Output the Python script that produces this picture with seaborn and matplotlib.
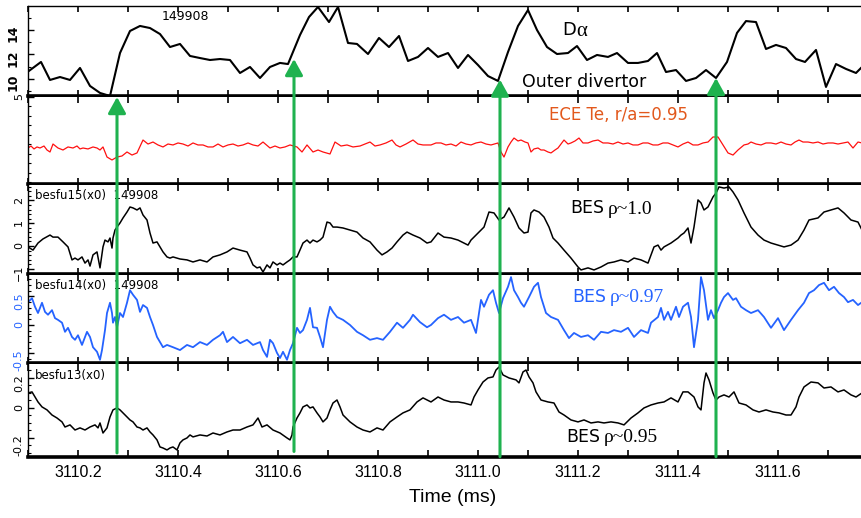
import matplotlib
matplotlib.use("Agg")
import matplotlib.pyplot as plt
import seaborn as sns
from matplotlib.patches import ConnectionPatch
from matplotlib.ticker import MultipleLocator, FormatStrFormatter

# ---------------- data ----------------
da_time = [3110.100, 3110.126, 3110.144, 3110.164, 3110.184, 3110.204, 3110.224, 3110.244, 3110.264,
           3110.284, 3110.304, 3110.324, 3110.344, 3110.364, 3110.384, 3110.404, 3110.424, 3110.444,
           3110.464, 3110.484, 3110.504, 3110.524, 3110.544, 3110.564, 3110.584, 3110.604, 3110.620,
           3110.644, 3110.662, 3110.680, 3110.702, 3110.720, 3110.740, 3110.758, 3110.780, 3110.802,
           3110.822, 3110.842, 3110.860, 3110.880, 3110.900, 3110.920, 3110.940, 3110.960, 3110.980,
           3111.000, 3111.020, 3111.040, 3111.060, 3111.080, 3111.100, 3111.118, 3111.138, 3111.158,
           3111.180, 3111.198, 3111.218, 3111.238, 3111.260, 3111.278, 3111.300, 3111.320, 3111.340,
           3111.358, 3111.376, 3111.396, 3111.416, 3111.436, 3111.456, 3111.476, 3111.498, 3111.518,
           3111.536, 3111.556, 3111.576, 3111.596, 3111.616, 3111.636, 3111.654, 3111.676, 3111.696,
           3111.716, 3111.736, 3111.756, 3111.768]
da_value = [10.6, 11.39, 9.92, 10.16, 9.92, 10.90, 9.43, 8.86, 8.61,
            12.12, 13.92, 14.33, 14.16, 13.67, 12.61, 12.86, 11.88, 11.71,
            11.55, 11.63, 11.55, 10.49, 10.98, 10.08, 10.98, 11.31, 11.22,
            13.59, 15.06, 15.88, 14.65, 15.88, 12.94, 12.86, 12.04, 13.35,
            12.61, 13.51, 11.47, 11.80, 12.53, 11.80, 12.12, 10.90, 11.96,
            11.14, 10.24, 9.84, 12.20, 14.33, 15.63, 14.00, 12.61, 12.04,
            12.12, 12.69, 11.55, 11.96, 11.80, 12.12, 11.31, 11.31, 11.47,
            12.12, 10.57, 10.73, 9.84, 10.08, 10.73, 10.08, 11.39, 13.76,
            14.73, 14.65, 12.45, 12.78, 12.53, 11.63, 11.39, 12.37, 9.35,
            11.22, 10.82, 10.49, 10.98]

ece_time = [3110.100, 3110.106, 3110.112, 3110.118, 3110.124, 3110.132, 3110.138, 3110.144, 3110.150,
            3110.160, 3110.170, 3110.180, 3110.190, 3110.198, 3110.204, 3110.210, 3110.220, 3110.230,
            3110.238, 3110.244, 3110.250, 3110.258, 3110.268, 3110.278, 3110.288, 3110.298, 3110.308,
            3110.318, 3110.330, 3110.340, 3110.350, 3110.360, 3110.370, 3110.380, 3110.390, 3110.400,
            3110.410, 3110.420, 3110.430, 3110.440, 3110.450, 3110.460, 3110.470, 3110.480, 3110.490,
            3110.500, 3110.510, 3110.520, 3110.530, 3110.540, 3110.550, 3110.560, 3110.570, 3110.584,
            3110.594, 3110.604, 3110.614, 3110.624, 3110.638, 3110.648, 3110.658, 3110.670, 3110.680,
            3110.690, 3110.704, 3110.714, 3110.726, 3110.738, 3110.750, 3110.764, 3110.774, 3110.784,
            3110.794, 3110.804, 3110.816, 3110.828, 3110.836, 3110.844, 3110.856, 3110.870, 3110.880,
            3110.890, 3110.906, 3110.916, 3110.926, 3110.936, 3110.946, 3110.956, 3110.966, 3110.976,
            3110.986, 3110.996, 3111.006, 3111.016, 3111.026, 3111.040, 3111.046, 3111.052, 3111.060,
            3111.066, 3111.072, 3111.080, 3111.086, 3111.094, 3111.100, 3111.106, 3111.112, 3111.120,
            3111.126, 3111.132, 3111.140, 3111.146, 3111.154, 3111.160, 3111.166, 3111.172, 3111.180,
            3111.186, 3111.194, 3111.202, 3111.210, 3111.220, 3111.230, 3111.240, 3111.250, 3111.260,
            3111.270, 3111.280, 3111.290, 3111.300, 3111.310, 3111.320, 3111.330, 3111.340, 3111.350,
            3111.360, 3111.370, 3111.380, 3111.390, 3111.400, 3111.410, 3111.420, 3111.430, 3111.440,
            3111.450, 3111.460, 3111.470, 3111.480, 3111.490, 3111.500, 3111.510, 3111.520, 3111.532,
            3111.540, 3111.546, 3111.556, 3111.566, 3111.576, 3111.586, 3111.596, 3111.606, 3111.616,
            3111.626, 3111.634, 3111.642, 3111.650, 3111.660, 3111.670, 3111.680, 3111.690, 3111.700,
            3111.710, 3111.720, 3111.730, 3111.740, 3111.750, 3111.760, 3111.768]
ece_value = [4.463, 4.484, 4.453, 4.474, 4.463, 4.484, 4.442, 4.421, 4.505,
             4.463, 4.442, 4.474, 4.463, 4.484, 4.453, 4.463, 4.453, 4.474,
             4.463, 4.442, 4.474, 4.368, 4.337, 4.368, 4.379, 4.421, 4.389,
             4.411, 4.547, 4.505, 4.526, 4.495, 4.474, 4.505, 4.495, 4.516,
             4.505, 4.484, 4.516, 4.495, 4.495, 4.474, 4.474, 4.505, 4.474,
             4.495, 4.505, 4.484, 4.495, 4.516, 4.495, 4.484, 4.526, 4.463,
             4.484, 4.463, 4.474, 4.495, 4.474, 4.421, 4.495, 4.421, 4.442,
             4.421, 4.400, 4.526, 4.484, 4.495, 4.474, 4.484, 4.505, 4.526,
             4.484, 4.495, 4.516, 4.547, 4.495, 4.474, 4.505, 4.547, 4.505,
             4.495, 4.495, 4.516, 4.516, 4.495, 4.505, 4.484, 4.526, 4.505,
             4.495, 4.516, 4.526, 4.505, 4.495, 4.516, 4.421, 4.368, 4.474,
             4.526, 4.568, 4.537, 4.547, 4.526, 4.516, 4.421, 4.453, 4.463,
             4.442, 4.442, 4.421, 4.411, 4.442, 4.463, 4.505, 4.547, 4.505,
             4.516, 4.537, 4.568, 4.516, 4.516, 4.537, 4.547, 4.516, 4.516,
             4.505, 4.526, 4.505, 4.516, 4.495, 4.495, 4.516, 4.516, 4.495,
             4.495, 4.516, 4.516, 4.495, 4.474, 4.505, 4.526, 4.495, 4.495,
             4.516, 4.526, 4.579, 4.579, 4.495, 4.411, 4.389, 4.442, 4.495,
             4.505, 4.526, 4.505, 4.495, 4.516, 4.516, 4.505, 4.526, 4.505,
             4.495, 4.526, 4.547, 4.526, 4.526, 4.516, 4.526, 4.505, 4.516,
             4.516, 4.505, 4.516, 4.526, 4.463, 4.526, 4.516]

bes15_time = [3110.100, 3110.110, 3110.120, 3110.130, 3110.144, 3110.150, 3110.160, 3110.170, 3110.180,
              3110.188, 3110.194, 3110.200, 3110.208, 3110.214, 3110.220, 3110.224, 3110.230, 3110.238,
              3110.244, 3110.250, 3110.254, 3110.260, 3110.264, 3110.268, 3110.270, 3110.274, 3110.278,
              3110.284, 3110.290, 3110.298, 3110.304, 3110.310, 3110.318, 3110.324, 3110.330, 3110.338,
              3110.344, 3110.350, 3110.358, 3110.364, 3110.370, 3110.378, 3110.384, 3110.390, 3110.398,
              3110.404, 3110.418, 3110.430, 3110.444, 3110.458, 3110.470, 3110.484, 3110.498, 3110.510,
              3110.524, 3110.538, 3110.544, 3110.550, 3110.558, 3110.564, 3110.570, 3110.578, 3110.584,
              3110.590, 3110.598, 3110.604, 3110.610, 3110.618, 3110.624, 3110.630, 3110.638, 3110.644,
              3110.650, 3110.658, 3110.664, 3110.670, 3110.678, 3110.684, 3110.690, 3110.698, 3110.704,
              3110.710, 3110.718, 3110.730, 3110.744, 3110.758, 3110.770, 3110.784, 3110.798, 3110.808,
              3110.818, 3110.828, 3110.838, 3110.850, 3110.858, 3110.870, 3110.884, 3110.898, 3110.906,
              3110.920, 3110.932, 3110.946, 3110.960, 3110.972, 3110.980, 3110.986, 3110.996, 3111.006,
              3111.012, 3111.022, 3111.032, 3111.042, 3111.052, 3111.062, 3111.072, 3111.082, 3111.092,
              3111.100, 3111.106, 3111.112, 3111.122, 3111.132, 3111.142, 3111.150, 3111.160, 3111.172,
              3111.186, 3111.200, 3111.206, 3111.220, 3111.232, 3111.246, 3111.260, 3111.272, 3111.286,
              3111.300, 3111.312, 3111.326, 3111.340, 3111.346, 3111.352, 3111.360, 3111.366, 3111.372,
              3111.386, 3111.400, 3111.406, 3111.412, 3111.420, 3111.426, 3111.432, 3111.440, 3111.446,
              3111.452, 3111.460, 3111.470, 3111.476, 3111.482, 3111.492, 3111.502, 3111.510, 3111.520,
              3111.532, 3111.546, 3111.560, 3111.572, 3111.586, 3111.600, 3111.612, 3111.626, 3111.640,
              3111.652, 3111.662, 3111.680, 3111.692, 3111.706, 3111.720, 3111.732, 3111.746, 3111.760,
              3111.768]
bes15_value = [-0.04, -0.18, 0.13, 0.31, 0.48, 0.39, 0.39, 0.18, -0.04,
               -0.61, -0.53, -0.61, -0.48, -0.75, -0.61, -0.88, -0.39, -0.26,
               -0.96, -0.04, 0.26, 0.18, 0.35, -0.09, 0.35, 0.70, 0.83,
               1.01, 1.23, 1.49, 1.71, 1.67, 1.58, 1.67, 1.36, 1.14,
               0.57, 0.13, 0.18, -0.04, -0.26, -0.48, -0.53, -0.48, -0.53,
               -0.57, -0.61, -0.70, -0.61, -0.70, -0.48, -0.39, -0.26, -0.09,
               -0.18, -0.26, -0.53, -0.83, -0.96, -0.92, -1.14, -0.83, -0.96,
               -0.70, -0.83, -0.75, -0.83, -0.70, -0.61, -0.48, -0.48, -0.18,
               0.13, 0.26, 0.13, 0.26, 0.18, 0.26, 0.39, 1.05, 1.01,
               0.83, 0.83, 0.79, 0.70, 0.61, 0.35, 0.18, -0.18, -0.39,
               -0.26, -0.09, 0.18, 0.48, 0.61, 0.48, 0.35, 0.13, 0.18,
               0.57, 0.39, 0.35, 0.26, 0.13, 0.04, 0.26, 0.48, 0.70,
               0.83, 1.49, 1.45, 1.14, 1.27, 1.67, 1.27, 0.79, 0.57,
               0.61, 1.45, 1.58, 1.49, 1.27, 0.83, 0.35, 0.13, -0.18,
               -0.53, -0.92, -1.05, -0.96, -1.05, -0.92, -0.75, -0.70, -0.61,
               -0.70, -0.53, -0.61, -0.75, -0.39, -0.04, 0.04, -0.18, -0.04,
               0.13, 0.35, 0.48, 0.57, 0.79, 0.13, 0.83, 2.02, 1.89,
               1.58, 1.71, 2.15, 2.32, 2.59, 2.54, 2.59, 2.37, 2.02,
               1.45, 0.83, 0.48, 0.26, 0.13, 0.04, -0.04, 0.04, 0.26,
               0.70, 1.14, 1.23, 1.49, 1.58, 1.67, 1.45, 1.14, 1.05,
               0.70]

bes14_time = [3110.100, 3110.108, 3110.114, 3110.120, 3110.128, 3110.134, 3110.140, 3110.148, 3110.154,
              3110.160, 3110.168, 3110.174, 3110.180, 3110.188, 3110.194, 3110.200, 3110.208, 3110.214,
              3110.218, 3110.224, 3110.230, 3110.238, 3110.244, 3110.248, 3110.254, 3110.258, 3110.264,
              3110.268, 3110.270, 3110.274, 3110.278, 3110.284, 3110.290, 3110.298, 3110.304, 3110.310,
              3110.318, 3110.324, 3110.330, 3110.338, 3110.344, 3110.350, 3110.358, 3110.364, 3110.370,
              3110.378, 3110.390, 3110.404, 3110.418, 3110.430, 3110.444, 3110.458, 3110.470, 3110.484,
              3110.490, 3110.498, 3110.510, 3110.524, 3110.538, 3110.550, 3110.564, 3110.570, 3110.578,
              3110.584, 3110.590, 3110.598, 3110.604, 3110.610, 3110.618, 3110.624, 3110.630, 3110.638,
              3110.644, 3110.650, 3110.658, 3110.664, 3110.670, 3110.678, 3110.684, 3110.690, 3110.698,
              3110.704, 3110.710, 3110.718, 3110.730, 3110.744, 3110.758, 3110.770, 3110.784, 3110.798,
              3110.810, 3110.824, 3110.838, 3110.850, 3110.864, 3110.870, 3110.884, 3110.898, 3110.906,
              3110.920, 3110.932, 3110.946, 3110.960, 3110.972, 3110.986, 3110.996, 3111.006, 3111.012,
              3111.022, 3111.030, 3111.036, 3111.042, 3111.050, 3111.060, 3111.066, 3111.072, 3111.080,
              3111.086, 3111.092, 3111.102, 3111.112, 3111.120, 3111.126, 3111.136, 3111.146, 3111.160,
              3111.172, 3111.182, 3111.192, 3111.206, 3111.220, 3111.232, 3111.246, 3111.260, 3111.272,
              3111.286, 3111.300, 3111.312, 3111.326, 3111.340, 3111.346, 3111.360, 3111.366, 3111.372,
              3111.380, 3111.386, 3111.396, 3111.402, 3111.410, 3111.420, 3111.426, 3111.432, 3111.440,
              3111.446, 3111.452, 3111.460, 3111.466, 3111.472, 3111.480, 3111.486, 3111.492, 3111.500,
              3111.510, 3111.516, 3111.526, 3111.536, 3111.546, 3111.560, 3111.572, 3111.586, 3111.600,
              3111.612, 3111.626, 3111.640, 3111.652, 3111.662, 3111.672, 3111.682, 3111.692, 3111.702,
              3111.712, 3111.722, 3111.732, 3111.740, 3111.750, 3111.760, 3111.768]
bes14_value = [0.40, 0.47, 0.32, 0.21, 0.39, 0.23, 0.18, 0.26, 0.12,
               0.09, 0.04, -0.12, -0.05, -0.21, -0.26, -0.18, -0.35, -0.21,
               -0.12, -0.21, -0.39, -0.47, -0.61, -0.44, -0.09, 0.21, 0.39,
               0.21, 0.04, 0.14, -0.04, 0.21, 0.14, 0.39, 0.61, 0.53,
               0.44, 0.23, 0.35, 0.30, 0.14, 0.00, -0.21, -0.30, -0.39,
               -0.35, -0.39, -0.44, -0.35, -0.39, -0.30, -0.35, -0.26, -0.18,
               -0.12, -0.30, -0.21, -0.32, -0.26, -0.35, -0.30, -0.44, -0.56,
               -0.26, -0.32, -0.49, -0.58, -0.47, -0.61, -0.44, -0.32, -0.05,
               -0.14, -0.09, 0.09, 0.30, -0.04, -0.05, -0.21, -0.39, 0.09,
               0.32, 0.23, 0.14, 0.09, 0.00, -0.12, -0.18, -0.26, -0.23,
               -0.26, -0.12, 0.04, -0.05, 0.09, 0.18, 0.05, -0.04, 0.00,
               0.12, 0.18, 0.09, 0.14, 0.04, 0.09, -0.14, 0.44, 0.32,
               0.53, 0.61, 0.39, 0.21, 0.47, 0.67, 0.84, 0.61, 0.49,
               0.39, 0.32, 0.49, 0.67, 0.74, 0.49, 0.21, 0.14, 0.09,
               -0.09, -0.23, -0.14, -0.21, -0.18, -0.26, -0.12, -0.14, -0.09,
               -0.12, -0.05, -0.21, -0.09, -0.14, 0.04, 0.14, 0.30, 0.09,
               0.23, 0.09, 0.32, 0.14, 0.32, 0.39, 0.14, -0.39, 0.09,
               0.84, 0.61, 0.09, 0.26, 0.12, 0.26, 0.39, 0.49, 0.56,
               0.44, 0.47, 0.32, 0.26, 0.21, 0.26, 0.14, -0.05, 0.12,
               -0.09, 0.09, 0.26, 0.39, 0.56, 0.61, 0.70, 0.74, 0.61,
               0.67, 0.56, 0.49, 0.40, 0.44, 0.35, 0.40]

bes13_time = [3110.100, 3110.108, 3110.114, 3110.120, 3110.128, 3110.138, 3110.148, 3110.158, 3110.168,
              3110.174, 3110.184, 3110.194, 3110.204, 3110.214, 3110.224, 3110.234, 3110.240, 3110.244,
              3110.250, 3110.258, 3110.264, 3110.270, 3110.278, 3110.284, 3110.290, 3110.298, 3110.304,
              3110.310, 3110.318, 3110.324, 3110.330, 3110.338, 3110.344, 3110.350, 3110.358, 3110.364,
              3110.370, 3110.378, 3110.384, 3110.390, 3110.398, 3110.404, 3110.410, 3110.418, 3110.424,
              3110.430, 3110.444, 3110.458, 3110.470, 3110.484, 3110.498, 3110.510, 3110.524, 3110.538,
              3110.550, 3110.560, 3110.568, 3110.578, 3110.590, 3110.604, 3110.618, 3110.624, 3110.628,
              3110.630, 3110.638, 3110.644, 3110.650, 3110.658, 3110.664, 3110.670, 3110.678, 3110.684,
              3110.690, 3110.698, 3110.704, 3110.710, 3110.718, 3110.724, 3110.730, 3110.744, 3110.758,
              3110.770, 3110.784, 3110.798, 3110.810, 3110.824, 3110.838, 3110.850, 3110.864, 3110.878,
              3110.890, 3110.906, 3110.920, 3110.932, 3110.946, 3110.960, 3110.972, 3110.986, 3110.992,
              3111.000, 3111.010, 3111.020, 3111.030, 3111.036, 3111.042, 3111.050, 3111.062, 3111.076,
              3111.082, 3111.090, 3111.096, 3111.102, 3111.110, 3111.116, 3111.126, 3111.140, 3111.152,
              3111.162, 3111.172, 3111.186, 3111.200, 3111.212, 3111.226, 3111.240, 3111.252, 3111.266,
              3111.280, 3111.292, 3111.306, 3111.320, 3111.332, 3111.346, 3111.360, 3111.372, 3111.386,
              3111.400, 3111.410, 3111.420, 3111.432, 3111.440, 3111.446, 3111.452, 3111.456, 3111.462,
              3111.470, 3111.476, 3111.482, 3111.492, 3111.502, 3111.512, 3111.522, 3111.536, 3111.550,
              3111.562, 3111.576, 3111.590, 3111.602, 3111.616, 3111.626, 3111.636, 3111.642, 3111.652,
              3111.666, 3111.680, 3111.692, 3111.706, 3111.720, 3111.732, 3111.746, 3111.756, 3111.768]
bes13_value = [0.100, 0.107, 0.073, 0.040, 0.007, -0.013, -0.047, -0.067, -0.093,
               -0.127, -0.113, -0.147, -0.133, -0.147, -0.127, -0.113, -0.133, -0.100,
               -0.167, -0.133, -0.060, -0.013, 0.000, -0.013, -0.033, -0.060, -0.080,
               -0.093, -0.127, -0.133, -0.147, -0.133, -0.160, -0.180, -0.213, -0.260,
               -0.267, -0.280, -0.267, -0.260, -0.280, -0.233, -0.213, -0.200, -0.180,
               -0.193, -0.180, -0.187, -0.167, -0.180, -0.160, -0.147, -0.147, -0.127,
               -0.113, -0.067, -0.127, -0.113, -0.147, -0.167, -0.200, -0.213, -0.180,
               -0.127, -0.067, -0.033, 0.007, 0.020, 0.000, 0.007, -0.033, -0.060,
               -0.093, -0.067, -0.013, 0.033, 0.053, 0.007, -0.047, -0.093, -0.127,
               -0.147, -0.160, -0.133, -0.147, -0.093, -0.060, -0.033, -0.013, 0.040,
               0.067, 0.040, 0.073, 0.053, 0.040, 0.040, 0.033, 0.020, 0.073,
               0.120, 0.173, 0.200, 0.207, 0.253, 0.273, 0.220, 0.200, 0.187,
               0.167, 0.240, 0.253, 0.207, 0.167, 0.107, 0.053, 0.040, 0.033,
               -0.027, -0.047, -0.080, -0.093, -0.080, -0.100, -0.093, -0.100, -0.093,
               -0.100, -0.113, -0.067, -0.033, 0.000, 0.020, 0.033, 0.040, 0.067,
               0.040, 0.107, 0.107, 0.073, 0.007, -0.013, 0.167, 0.233, 0.187,
               0.100, 0.053, 0.073, 0.087, 0.073, 0.107, 0.033, 0.020, -0.013,
               -0.027, -0.013, -0.027, -0.033, -0.047, -0.047, 0.007, 0.073, 0.140,
               0.173, 0.167, 0.133, 0.140, 0.107, 0.120, 0.087, 0.073, 0.100]

elm_times = [3110.278, 3110.632, 3111.044, 3111.476]       # green arrows
arrow_tips = [("ece", 5.0), ("da", 11.63), ("da", 9.95), ("da", 10.08)]
arrow_bottoms = [-0.30, -0.29, -0.325, -0.325]

x_ticks_major = [3110.2, 3110.4, 3110.6, 3110.8, 3111.0, 3111.2, 3111.4, 3111.6]

# ---------------- figure ----------------
sns.set_theme(style="ticks")
plt.rcParams['font.family'] = ['DejaVu Sans']
plt.rcParams['text.color'] = 'black'
plt.rcParams['xtick.color'] = 'black'
plt.rcParams['ytick.color'] = 'black'
plt.rcParams['xtick.labelcolor'] = 'black'
plt.rcParams['ytick.labelcolor'] = 'black'

W, H = 862, 518
fig = plt.figure(figsize=(W / 100, H / 100), dpi=100)
fig.patch.set_facecolor("white")

LEFT = 28
XLIM = (3110.1, 3111.768)


def make_ax(top, bottom):
    ax = fig.add_axes([LEFT / W, 1 - bottom / H, (W - LEFT) / W, (bottom - top) / H])
    ax.set_facecolor("white")
    ax.set_xlim(*XLIM)
    for s in ax.spines.values():
        s.set_color("black")
    ax.spines["right"].set_visible(False)
    ax.spines["left"].set_linewidth(1.0)
    ax.xaxis.set_major_locator(MultipleLocator(0.1))
    ax.tick_params(axis="x", which="both", direction="in", top=True, bottom=True,
                   length=4.5, width=1.2, color="black", labelbottom=False)
    ax.tick_params(axis="y", which="major", direction="in", left=True, right=False,
                   length=4, width=1, labelsize=8, labelrotation=90, pad=3,
                   color="black", labelcolor="black")
    ax.tick_params(axis="y", which="minor", direction="in", left=True, right=False,
                   length=2.2, width=0.8, color="black")
    return ax


ax1 = make_ax(6, 96)
ax2 = make_ax(97, 184)
ax3 = make_ax(185, 274)
ax4 = make_ax(275, 363)
ax5 = make_ax(364, 457)

for ax in (ax1, ax2, ax3, ax4):
    ax.spines["bottom"].set_linewidth(2.6)
for ax in (ax2, ax3, ax4, ax5):
    ax.spines["top"].set_visible(False)
ax1.spines["top"].set_linewidth(1.0)
ax5.spines["bottom"].set_linewidth(2.6)

# traces
blue = "#2563ff"
sns.lineplot(x=da_time, y=da_value, ax=ax1, color="black", lw=1.5, sort=False, estimator=None)
sns.lineplot(x=ece_time, y=ece_value, ax=ax2, color="#ff1010", lw=0.9, sort=False, estimator=None)
sns.lineplot(x=bes15_time, y=bes15_value, ax=ax3, color="black", lw=1.1, sort=False, estimator=None)
sns.lineplot(x=bes14_time, y=bes14_value, ax=ax4, color=blue, lw=1.3, sort=False, estimator=None)
sns.lineplot(x=bes13_time, y=bes13_value, ax=ax5, color="black", lw=1.1, sort=False, estimator=None)
for ax in (ax1, ax2, ax3, ax4, ax5):
    ax.set_xlabel("")
    ax.set_ylabel("")

# y axes
ax1.set_ylim(8.61, 15.96)
ax1.set_yticks([10, 12, 14])
ax1.yaxis.set_minor_locator(MultipleLocator(1))
ax1.tick_params(axis="y", labelsize=9, pad=6)
for lab in ax1.get_yticklabels():
    lab.set_fontweight("bold")

ax2.set_ylim(4.084, 5.0)
ax2.set_yticks([5])
ax2.yaxis.set_minor_locator(MultipleLocator(0.1))
ax2.yaxis.set_major_formatter(FormatStrFormatter("%d"))

ax3.set_ylim(-1.228, 2.675)
ax3.set_yticks([-1, 0, 1, 2])
ax3.yaxis.set_minor_locator(MultipleLocator(0.2))

ax4.set_ylim(-0.667, 0.877)
ax4.set_yticks([-0.5, 0, 0.5])
ax4.yaxis.set_major_formatter(FormatStrFormatter("%g"))
ax4.yaxis.set_minor_locator(MultipleLocator(0.1))
ax4.tick_params(axis="y", labelcolor=blue)

ax5.set_ylim(-0.327, 0.293)
ax5.set_yticks([-0.2, 0, 0.2])
ax5.yaxis.set_major_formatter(FormatStrFormatter("%g"))
ax5.yaxis.set_minor_locator(MultipleLocator(0.05))

# bottom axis
ax5.set_xticks(x_ticks_major)
ax5.xaxis.set_minor_locator(MultipleLocator(0.1))
ax5.xaxis.set_major_formatter(FormatStrFormatter("%.1f"))
ax5.tick_params(axis="x", which="both", labelbottom=True, labelsize=11.5, pad=6,
                direction="in", length=5, width=1.2)
for lab in ax5.get_xticklabels():
    lab.set_family(["Liberation Sans", "DejaVu Sans"])


# ---------------- text ----------------
def ftext(x, y, s, **kw):
    fig.text(x / W, 1 - y / H, s, **kw)


serif = ["Liberation Serif", "DejaVu Serif"]
ftext(185, 17, "149908", fontsize=9, ha="center", va="center")
ftext(576, 30, "D", fontsize=13, ha="right", va="center")
ftext(576, 31, "α", fontsize=15, ha="left", va="center", family=serif)
ftext(584, 82, "Outer divertor", fontsize=12.5, ha="center", va="center")
ftext(619, 115, "ECE Te, r/a=0.95", fontsize=12, ha="center", va="center", color="#e2581c")

ftext(35, 195, "besfu15(x0)  149908", fontsize=8.5, ha="left", va="center")
ftext(604, 208, "BES", fontsize=12.5, ha="right", va="center")
ftext(608, 209, "ρ~1.0", fontsize=14, ha="left", va="center", family=serif)

ftext(35, 285, "besfu14(x0)  149908", fontsize=8.5, ha="left", va="center")
ftext(606, 297, "BES", fontsize=12.5, ha="right", va="center", color=blue)
ftext(610, 298, "ρ~0.97", fontsize=14, ha="left", va="center", family=serif, color=blue)

ftext(35, 375, "besfu13(x0)", fontsize=8.5, ha="left", va="center")
ftext(600, 437, "BES", fontsize=12.5, ha="right", va="center")
ftext(604, 438, "ρ~0.95", fontsize=14, ha="left", va="center", family=serif)

ftext(453, 497, "Time (ms)", fontsize=14, ha="center", va="center",
      family=["Liberation Sans", "DejaVu Sans"])

# ---------------- green ELM arrows ----------------
green = "#1fb24f"
axes_by_name = {"da": ax1, "ece": ax2}
for t, (name, tip), bot in zip(elm_times, arrow_tips, arrow_bottoms):
    con = ConnectionPatch(xyA=(t, bot), coordsA=ax5.transData,
                          xyB=(t, tip), coordsB=axes_by_name[name].transData,
                          arrowstyle="-|>,head_length=0.65,head_width=0.36",
                          mutation_scale=15, lw=2.2, color=green,
                          shrinkA=0, shrinkB=0, zorder=20)
    fig.add_artist(con)

fig.savefig("out.png", dpi=100, facecolor="white")
